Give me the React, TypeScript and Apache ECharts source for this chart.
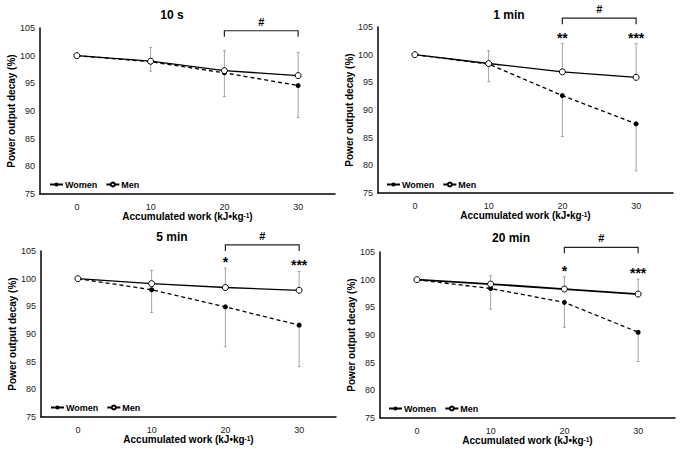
import React, { useEffect, useRef } from 'react';
import * as echarts from 'echarts';

// x categories: accumulated work (kJ/kg)
const categories = ['0', '10', '20', '30'];
const panelTitles = ['10 s', '1 min', '5 min', '20 min'];

// 10 s
const women10s = [100, 98.9, 96.9, 94.6];
const men10s = [100, 99.0, 97.3, 96.4];
const womenSd10s = [0, 1.7, 4.3, 5.8];
const menSd10s = [0, 2.5, 3.6, 4.2];
const stars10s = ['', '', '', ''];

// 1 min
const women1min = [100, 98.3, 92.6, 87.5];
const men1min = [100, 98.4, 96.9, 95.9];
const womenSd1min = [0, 3.2, 7.4, 8.5];
const menSd1min = [0, 2.3, 5.1, 6.1];
const stars1min = ['', '', '**', '***'];

// 5 min
const women5min = [100, 98.0, 94.9, 91.6];
const men5min = [100, 99.1, 98.4, 97.9];
const womenSd5min = [0, 4.1, 7.2, 7.5];
const menSd5min = [0, 2.4, 3.5, 3.4];
const stars5min = ['', '', '*', '***'];

// 20 min
const women20min = [100, 98.4, 95.9, 90.5];
const men20min = [100, 99.2, 98.3, 97.4];
const womenSd20min = [0, 3.7, 4.5, 5.3];
const menSd20min = [0, 1.5, 2.2, 2.7];
const stars20min = ['', '', '*', '***'];

const panels = [
  { women: women10s, men: men10s, womenSd: womenSd10s, menSd: menSd10s, stars: stars10s },
  { women: women1min, men: men1min, womenSd: womenSd1min, menSd: menSd1min, stars: stars1min },
  { women: women5min, men: men5min, womenSd: womenSd5min, menSd: menSd5min, stars: stars5min },
  { women: women20min, men: men20min, womenSd: womenSd20min, menSd: menSd20min, stars: stars20min },
];

// layout per panel (pixels), bracket level in axis units
const layout = [
  { left: 40, top: 28, titleX: 172, titleY: 15, legendX: 49, legendY: 180, bracketY: 104.5 },
  { left: 378, top: 27, titleX: 509, titleY: 15, legendX: 386, legendY: 180, bracketY: 106.6 },
  { left: 41, top: 251, titleX: 172, titleY: 237, legendX: 50, legendY: 403, bracketY: 106.1 },
  { left: 380, top: 252, titleX: 511, titleY: 238, legendX: 388, legendY: 404, bracketY: 105.85 },
];

const FONT = '"Liberation Sans", Arial, sans-serif';
const ERR_COLOR = '#a3a3a3';

const App: React.FC = () => {
  const chartRef = useRef<HTMLDivElement>(null);

  useEffect(() => {
    document.body.style.margin = '0';
    if (!chartRef.current) return;
    const chart = echarts.init(chartRef.current, undefined, { renderer: 'svg' });

    const errorBar = (params: any, api: any) => {
      const x = api.value(0);
      const a = api.coord([x, api.value(1)]);
      const b = api.coord([x, api.value(2)]);
      const style = { stroke: ERR_COLOR, lineWidth: 1 };
      return {
        type: 'group',
        children: [
          { type: 'line', shape: { x1: a[0], y1: a[1], x2: b[0], y2: b[1] }, style },
          { type: 'line', shape: { x1: a[0] - 1.5, y1: a[1], x2: a[0] + 1.5, y2: a[1] }, style },
          { type: 'line', shape: { x1: b[0] - 1.5, y1: b[1], x2: b[0] + 1.5, y2: b[1] }, style },
        ],
      };
    };

    const grids: any[] = [];
    const xAxes: any[] = [];
    const yAxes: any[] = [];
    const series: any[] = [];

    panels.forEach((p, k) => {
      const l = layout[k];
      grids.push({ left: l.left, top: l.top, width: 295, height: 166 });
      xAxes.push({
        type: 'category',
        gridIndex: k,
        data: categories,
        boundaryGap: true,
        axisTick: { show: false },
        axisLine: { lineStyle: { color: '#000', width: 1.5 } },
        axisLabel: { fontSize: 9, color: '#222', margin: 8, fontFamily: FONT },
        name: '{b|Accumulated work (kJ•kg}{s|-1}{b|)}',
        nameLocation: 'middle',
        nameGap: 16,
        nameTextStyle: {
          rich: {
            b: { fontSize: 10, fontWeight: 'bold', color: '#000', fontFamily: FONT },
            s: { fontSize: 6.5, fontWeight: 'bold', color: '#000', fontFamily: FONT, verticalAlign: 'top' },
          },
        },
      });
      yAxes.push({
        type: 'value',
        gridIndex: k,
        min: 75,
        max: 105,
        interval: 5,
        splitLine: { show: false },
        axisTick: { show: false },
        axisLine: { show: true, lineStyle: { color: '#000', width: 1.5 } },
        axisLabel: { fontSize: 9, color: '#222', margin: 5, fontFamily: FONT },
        name: 'Power output decay (%)',
        nameLocation: 'middle',
        nameGap: 22,
        nameTextStyle: { fontSize: 10, fontWeight: 'bold', color: '#000', fontFamily: FONT },
      });

      const womenErr = p.women.map((v, i) => [i, v - p.womenSd[i], v]).filter((_, i) => p.womenSd[i] > 0);
      const menErr = p.men.map((v, i) => [i, v, v + p.menSd[i]]).filter((_, i) => p.menSd[i] > 0);

      series.push({
        type: 'custom',
        xAxisIndex: k,
        yAxisIndex: k,
        data: womenErr.concat(menErr),
        encode: { x: 0, y: [1, 2] },
        renderItem: errorBar,
        z: 1,
        silent: true,
      });
      series.push({
        type: 'line',
        name: 'Women',
        xAxisIndex: k,
        yAxisIndex: k,
        data: p.women,
        symbol: 'circle',
        symbolSize: 5,
        lineStyle: { color: '#000', width: 1.3, type: [4, 3] },
        itemStyle: { color: '#000' },
        z: 3,
      });
      series.push({
        type: 'line',
        name: 'Men',
        xAxisIndex: k,
        yAxisIndex: k,
        data: p.men,
        symbol: 'circle',
        symbolSize: 6,
        lineStyle: { color: '#000', width: k === 3 ? 1.8 : 1.3 },
        itemStyle: { color: '#fff', borderColor: '#000', borderWidth: 1 },
        z: 4,
      });
      // significance stars above the upper error bar
      const starData = p.men.map((v, i) => [i, v + p.menSd[i]]).filter((_, i) => p.stars[i] !== '');
      const starIdx = p.stars.map((s, i) => (s !== '' ? i : -1)).filter((i) => i >= 0);
      series.push({
        type: 'custom',
        xAxisIndex: k,
        yAxisIndex: k,
        data: starData,
        encode: { x: 0, y: 1 },
        clip: false,
        silent: true,
        z: 5,
        renderItem: (params: any, api: any) => {
          const pt = api.coord([api.value(0), api.value(1)]);
          return {
            type: 'text',
            x: pt[0],
            y: pt[1] - 6,
            style: {
              text: p.stars[starIdx[params.dataIndex]],
              fill: '#000',
              fontSize: 14,
              fontWeight: 'bold',
              fontFamily: FONT,
              align: 'center',
              verticalAlign: 'middle',
            },
          };
        },
      });
      // bracket between 20 and 30 with '#'
      series.push({
        type: 'custom',
        xAxisIndex: k,
        yAxisIndex: k,
        data: [[2, l.bracketY, 3]],
        encode: { x: 0, y: 1 },
        clip: false,
        silent: true,
        z: 5,
        renderItem: (params: any, api: any) => {
          const a = api.coord([api.value(0), api.value(1)]);
          const b = api.coord([api.value(2), api.value(1)]);
          return {
            type: 'group',
            children: [
              {
                type: 'polyline',
                shape: { points: [[a[0], a[1] + 6], [a[0], a[1]], [b[0], b[1]], [b[0], b[1] + 6]] },
                style: { stroke: '#222', lineWidth: 1.2, fill: 'none' },
              },
              {
                type: 'text',
                x: (a[0] + b[0]) / 2,
                y: a[1] - 9,
                style: {
                  text: '#',
                  fill: '#000',
                  fontSize: 11,
                  fontWeight: 'bold',
                  fontFamily: FONT,
                  align: 'center',
                  verticalAlign: 'middle',
                },
              },
            ],
          };
        },
      });
    });

    const option = {
      animation: false,
      textStyle: { fontFamily: FONT },
      grid: grids,
      xAxis: xAxes,
      yAxis: yAxes,
      legend: layout.map((l) => ({
        left: l.legendX,
        top: l.legendY,
        data: ['Women', 'Men'],
        selectedMode: false,
        itemGap: 8,
        itemWidth: 13,
        itemHeight: 5,
        padding: 0,
        lineStyle: { type: 'solid' },
        textStyle: { fontSize: 9, fontWeight: 'bold', color: '#000', fontFamily: FONT, padding: [0, 0, 0, -3] },
      })),
      graphic: panelTitles.map((t, k) => ({
        type: 'text',
        x: layout[k].titleX,
        y: layout[k].titleY,
        style: {
          text: t,
          fill: '#000',
          fontSize: 12,
          fontWeight: 'bold',
          fontFamily: FONT,
          align: 'center',
          verticalAlign: 'middle',
        },
      })),
      series,
    };

    chart.setOption(option);
    return () => {
      chart.dispose();
    };
  }, []);

  return <div ref={chartRef} style={{ width: '680px', height: '449px', background: '#fff' }} />;
};

export default App;
